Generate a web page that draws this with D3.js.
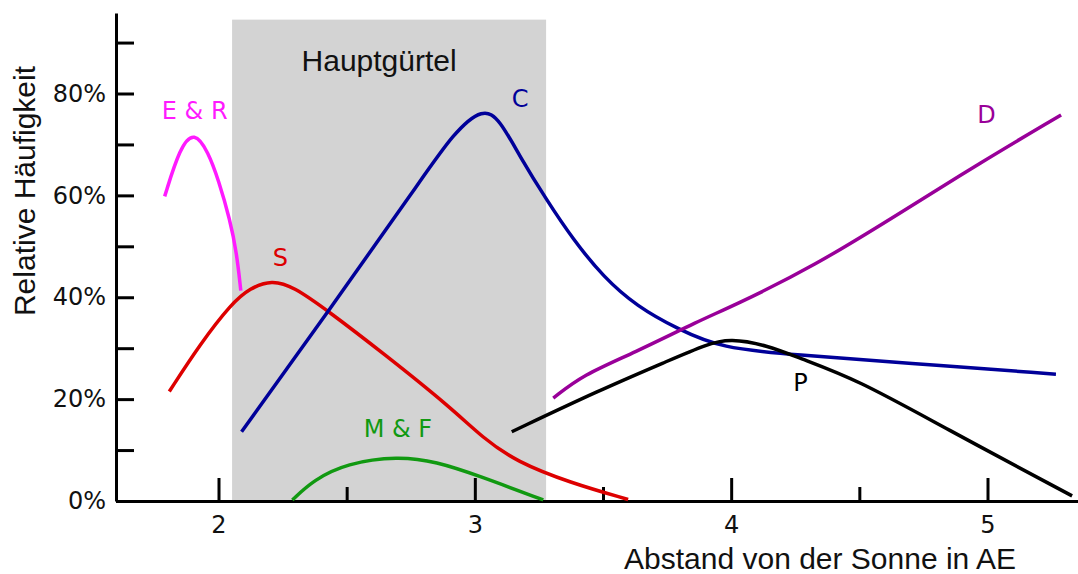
<html>
<head>
 <meta charset="UTF-8">
 <title>Relative Häufigkeit der Asteroidentypen</title>
 <script type="text/javascript" src="https://cdn.jsdelivr.net/npm/d3@7/dist/d3.min.js"></script>
 <style>
body {
  margin: 0;
  background: #fff;
}
svg {
  display: block;
}
.tick text {
  font-family: "DejaVu Sans", sans-serif;
  font-size: 24px;
  fill: #111;
}
.axis path, .axis line {
  stroke: #000;
  stroke-width: 3px;
}
.curve {
  fill: none;
  stroke-width: 3.5px;
  stroke-linecap: butt;
}
.title {
  font-family: "Liberation Sans", Arial, sans-serif;
  font-size: 30px;
  fill: #111;
}
.lbl {
  font-family: "DejaVu Sans", sans-serif;
  font-size: 24px;
  text-anchor: middle;
}
 </style>
</head>

<body>
 <svg></svg>
</body>

<script type="text/javascript">
// Abstand in AE, relative Häufigkeit in %
var erX = [1.79, 1.85, 1.906, 1.96, 2.0, 2.045, 2.071, 2.087],
  erY = [59.8, 69.5, 72.6, 68.5, 63.0, 55.2, 48.7, 41.3];
var sX = [1.808, 1.928, 2.051, 2.123, 2.208, 2.292, 2.428, 2.643, 2.903, 3.033, 3.163, 3.371, 3.598],
  sY = [21.5, 30.8, 38.8, 41.8, 43.4, 42.1, 37.3, 29.0, 18.5, 12.3, 7.7, 3.6, 0.3];
var cX = [2.09, 2.435, 2.786, 2.916, 3.033, 3.098, 3.176, 3.28, 3.384, 3.501, 3.632, 3.794, 3.961, 4.249, 4.68, 5.267],
  cY = [13.6, 37.7, 62.7, 72.2, 77.3, 74.8, 67.6, 59.1, 51.3, 44.0, 38.2, 33.7, 30.0, 28.7, 27.1, 24.9];
var dX = [3.306, 3.423, 3.618, 3.879, 4.004, 4.321, 4.68, 4.968, 5.287],
  dY = [20.2, 24.8, 29.0, 35.5, 38.2, 46.0, 57.2, 66.3, 75.8];
var pX = [3.144, 3.488, 3.749, 3.905, 3.996, 4.139, 4.269, 4.493, 4.824, 5.33],
  pY = [13.6, 21.8, 27.4, 30.8, 31.9, 30.6, 28.0, 23.8, 14.6, 1.0];
var mfX = [2.288, 2.37, 2.5, 2.701, 2.851, 3.007, 3.267],
  mfY = [0.2, 4.1, 7.4, 8.8, 7.7, 5.1, 0.2];

var namen = ["E & R", "S", "C", "D", "P", "M & F"],
  farben = ["#ff1aff", "#dd0000", "#000099", "#990099", "#000000", "#119911"],
  labelX = [1.907, 2.241, 3.177, 4.996, 4.27, 2.70],
  labelY = [75.0, 46.2, 77.4, 74.2, 21.6, 12.5];

var guertel = [2.053, 3.278], guertelTop = 94.5;
var majorTicks = [2, 3, 4, 5], minorTicks = [2.5, 3.5, 4.5];
var yTicks = [0, 10, 20, 30, 40, 50, 60, 70, 80, 90], yLabels = [0, 20, 40, 60, 80];

var width = 1078, height = 574;
var svg = d3.select("svg").attr("width", width).attr("height", height);

var xscale = d3.scaleLinear().domain([2, 5]).range([218.5, 987.5]),
  yscale = d3.scaleLinear().domain([0, 80]).range([501, 93.5]);
var xmin = xscale.invert(116), xmax = xscale.invert(1078), ymax = yscale.invert(13);

svg.append("rect")
  .attr("x", xscale(guertel[0]))
  .attr("y", yscale(guertelTop))
  .attr("width", xscale(guertel[1]) - xscale(guertel[0]))
  .attr("height", yscale(0) - yscale(guertelTop))
  .attr("fill", "#d3d3d3");

svg.append("text")
  .attr("class", "title")
  .attr("x", xscale((guertel[0] + guertel[1]) / 2) - 10)
  .attr("y", 71)
  .attr("text-anchor", "middle")
  .text("Hauptgürtel");

// Achsen
var xaxisScale = xscale.copy().domain([xmin, xmax]).range([116, 1078]);
svg.append("g").attr("class", "axis")
  .attr("transform", "translate(0," + yscale(0) + ")")
  .call(d3.axisBottom(xaxisScale).tickValues(majorTicks).tickSize(-23).tickSizeOuter(0).tickFormat(""));
svg.append("g").attr("class", "axis")
  .attr("transform", "translate(0," + yscale(0) + ")")
  .call(d3.axisBottom(xaxisScale).tickValues(minorTicks).tickSize(-14).tickSizeOuter(0).tickFormat(""))
  .select(".domain").remove();
svg.append("g").attr("class", "axis")
  .attr("transform", "translate(0," + yscale(0) + ")")
  .call(d3.axisBottom(xaxisScale).tickValues(majorTicks).tickSize(0).tickPadding(15).tickFormat(d3.format("d")))
  .call(function(g){ g.select(".domain").remove(); });

var yaxisScale = yscale.copy().domain([0, ymax]).range([501, 13]);
svg.append("g").attr("class", "axis")
  .attr("transform", "translate(116,0)")
  .call(d3.axisRight(yaxisScale).tickValues(yTicks).tickSize(18).tickSizeOuter(0).tickFormat(""));
svg.append("g").attr("class", "axis")
  .attr("transform", "translate(116,0)")
  .call(d3.axisLeft(yaxisScale).tickValues(yLabels).tickSize(0).tickPadding(10).tickFormat(function(d){ return d + "%"; }))
  .call(function(g){ g.select(".domain").remove(); });

svg.append("text")
  .attr("class", "title")
  .attr("transform", "translate(35,191) rotate(-90)")
  .attr("text-anchor", "middle")
  .text("Relative Häufigkeit");
svg.append("text")
  .attr("class", "title")
  .attr("x", 1016)
  .attr("y", 569)
  .attr("text-anchor", "end")
  .text("Abstand von der Sonne in AE");

// Kurven
var serien = [[erX, erY], [sX, sY], [cX, cY], [dX, dY], [pX, pY], [mfX, mfY]];
var line = d3.line()
  .curve(d3.curveBasis)
  .x(function(d){ return xscale(d[0]); })
  .y(function(d){ return yscale(d[1]); });

serien.forEach(function(s, i){
  svg.append("path")
    .attr("class", "curve")
    .attr("stroke", farben[i])
    .attr("d", line(d3.zip(s[0], s[1])));
  svg.append("text")
    .attr("class", "lbl")
    .attr("x", xscale(labelX[i]))
    .attr("y", yscale(labelY[i]))
    .attr("fill", farben[i])
    .text(namen[i]);
});
</script>
</html>
